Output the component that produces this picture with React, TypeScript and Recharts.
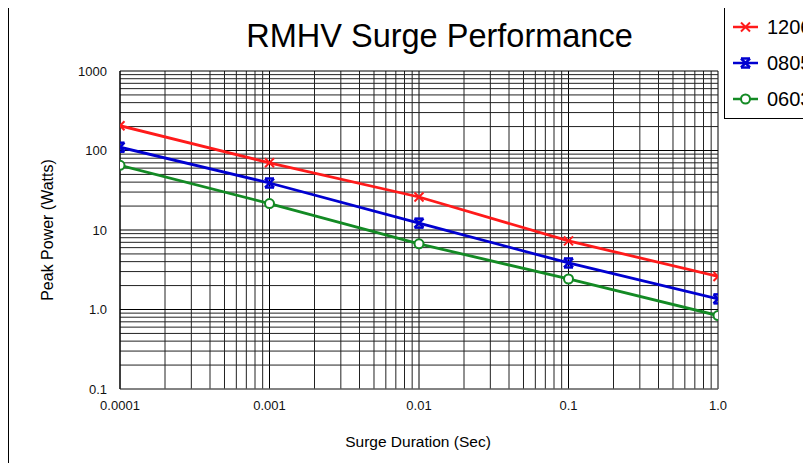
import { LineChart, Line, XAxis, YAxis, ReferenceLine } from 'recharts';

const durations = [0.0001, 0.001, 0.01, 0.1, 1];
const xTicks = [0.0001, 0.001, 0.01, 0.1, 1];
const xTickLabels = ['0.0001', '0.001', '0.01', '0.1', '1.0'];
const yTicks = [0.1, 1, 10, 100, 1000];
const yTickLabels = ['0.1', '1.0', '10', '100', '1000'];

const series1206 = [205, 70, 26, 7.3, 2.6];
const series0805 = [110, 39, 12.2, 3.85, 1.36];
const series0603 = [65, 21.5, 6.7, 2.42, 0.84];

const seriesNames = ['1206', '0805', '0603'];
const seriesColors = ['#ff1a1a', '#0000d0', '#138a24'];
const seriesKeys = ['s1206', 's0805', 's0603'];

const data = durations.map((d, i) => ({
  x: d,
  s1206: series1206[i],
  s0805: series0805[i],
  s0603: series0603[i],
}));

// minor grid positions for the log axes (1..9 in every decade)
const mult = [1, 2, 3, 4, 5, 6, 7, 8, 9];
const vGrid = [...[0.0001, 0.001, 0.01, 0.1].flatMap(d => mult.map(m => d * m)), 1];
const hGrid = [...[0.1, 1, 10, 100].flatMap(d => mult.map(m => d * m)), 1000];

const font = '"Liberation Sans", Arial, sans-serif';

const Marker = ({ cx, cy, kind, color }: { cx: number; cy: number; kind: number; color: string }) => {
  if (cx == null || cy == null) return null;
  if (kind === 0) {
    const s = 4.5;
    return (
      <g stroke={color} strokeWidth={2}>
        <line x1={cx - s} y1={cy - s} x2={cx + s} y2={cy + s} />
        <line x1={cx - s} y1={cy + s} x2={cx + s} y2={cy - s} />
      </g>
    );
  }
  if (kind === 1) {
    const s = 4.5;
    return (
      <g stroke={color} strokeWidth={2.5}>
        <line x1={cx - s} y1={cy - s} x2={cx + s} y2={cy + s} />
        <line x1={cx - s} y1={cy + s} x2={cx + s} y2={cy - s} />
        <line x1={cx - s} y1={cy - s} x2={cx + s} y2={cy - s} />
        <line x1={cx - s} y1={cy + s} x2={cx + s} y2={cy + s} />
      </g>
    );
  }
  return <circle cx={cx} cy={cy} r={4.5} fill="#fff" stroke={color} strokeWidth={2} />;
};

const App = () => {
  return (
    <div style={{ position: 'relative', width: 811, height: 463, margin: '-8px 0 0 -8px', overflow: 'hidden', background: '#fff', fontFamily: font }}>
      <div style={{ position: 'absolute', left: 8, top: 7, width: 900, height: 500, border: '1px solid #000' }} />
      <div style={{ position: 'absolute', left: 0, width: 879, top: 16, textAlign: 'center', fontSize: 32.5, lineHeight: '40px', color: '#000' }}>
        RMHV Surge Performance
      </div>
      <div style={{ position: 'absolute', left: 0, width: 836, top: 433, textAlign: 'center', fontSize: 15.5, color: '#000' }}>
        Surge Duration (Sec)
      </div>
      <div style={{ position: 'absolute', left: 48, top: 230, transform: 'translate(-50%, -50%) rotate(-90deg)', whiteSpace: 'nowrap', fontSize: 16, color: '#000' }}>
        Peak Power (Watts)
      </div>

      <div style={{ position: 'absolute', left: 0, top: 0 }}>
        <LineChart width={811} height={463} data={data} margin={{ top: 71, right: 93, bottom: 44, left: 0 }}>
          <XAxis
            dataKey="x"
            type="number"
            scale="log"
            domain={[0.0001, 1]}
            ticks={xTicks}
            tickFormatter={(v: number) => xTickLabels[xTicks.indexOf(v)] ?? String(v)}
            tickLine={false}
            tickSize={10}
            axisLine={{ stroke: '#888' }}
            height={30}
            allowDataOverflow
            tick={{ fontSize: 13, fill: '#111', fontFamily: font }}
          />
          <YAxis
            type="number"
            scale="log"
            domain={[0.1, 1000]}
            ticks={yTicks}
            tickFormatter={(v: number) => yTickLabels[yTicks.indexOf(v)] ?? String(v)}
            tickLine={false}
            tickSize={11}
            axisLine={{ stroke: '#000' }}
            width={120}
            allowDataOverflow
            tick={{ fontSize: 13, fill: '#111', fontFamily: font }}
          />
          {vGrid.map((v, i) => (
            <ReferenceLine key={'v' + i} x={v} stroke={i % 9 === 0 ? '#000' : '#222'} strokeWidth={1} ifOverflow="extendDomain" />
          ))}
          {hGrid.map((v, i) => (
            <ReferenceLine key={'h' + i} y={v} stroke={i % 9 === 0 ? '#000' : '#222'} strokeWidth={1} ifOverflow="extendDomain" />
          ))}
          {seriesKeys.map((k, i) => (
            <Line
              key={k}
              dataKey={k}
              stroke={seriesColors[i]}
              strokeWidth={2.8}
              type="linear"
              isAnimationActive={false}
              dot={(p: any) => <Marker key={k + p.index} cx={p.cx} cy={p.cy} kind={i} color={seriesColors[i]} />}
            />
          ))}
        </LineChart>
      </div>

      <div style={{ position: 'absolute', left: 724, top: -1, width: 120, height: 118, border: '1px solid #000', background: '#fff' }}>
        {seriesNames.map((name, i) => (
          <div key={name} style={{ position: 'absolute', left: 0, top: 27 + i * 36 - 13, height: 26, display: 'flex', alignItems: 'center' }}>
            <svg width={42} height={26}>
              <line x1={8} y1={13} x2={33} y2={13} stroke={seriesColors[i]} strokeWidth={2.5} />
              <Marker cx={20.5} cy={13} kind={i} color={seriesColors[i]} />
            </svg>
            <span style={{ fontSize: 20, color: '#000', whiteSpace: 'nowrap' }}>{name}</span>
          </div>
        ))}
      </div>
    </div>
  );
};

export default App;
